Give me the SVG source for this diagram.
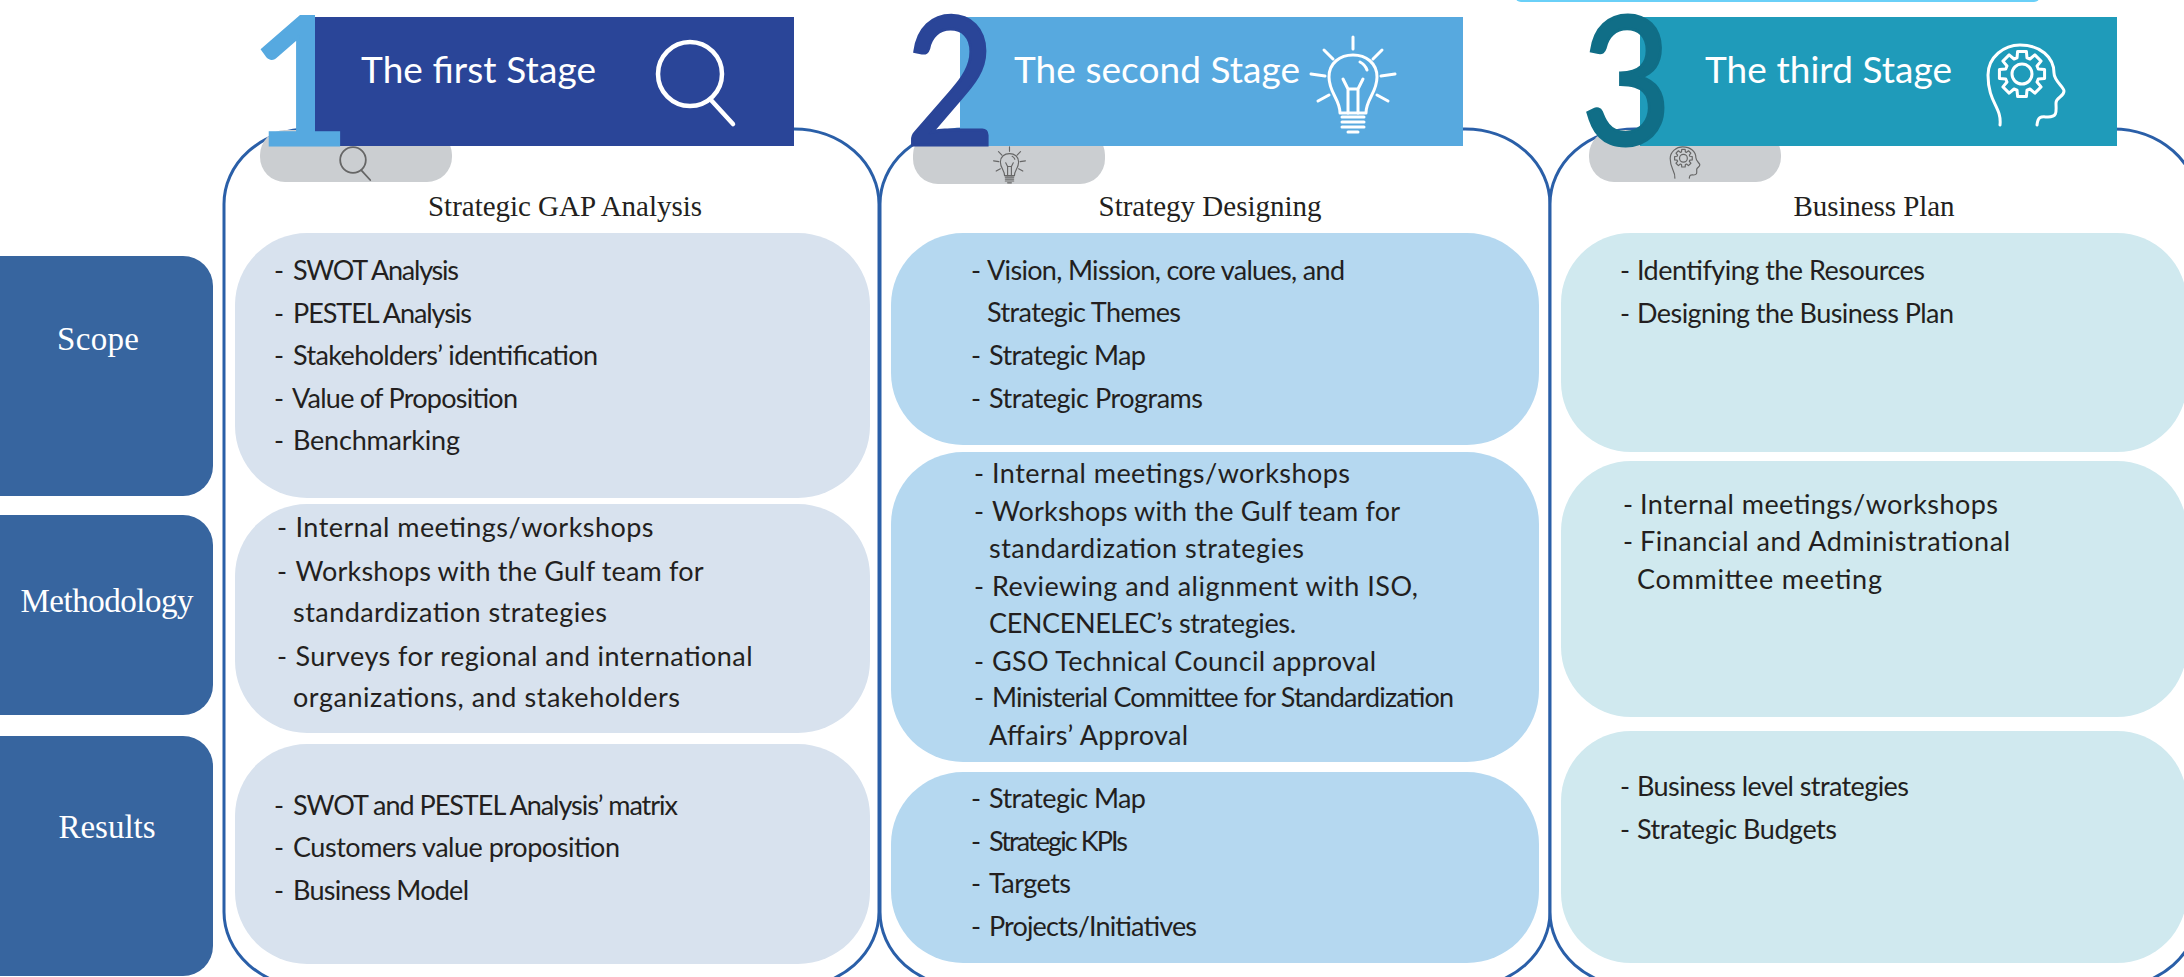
<svg xmlns="http://www.w3.org/2000/svg" width="2184" height="977" viewBox="0 0 2184 977">
<style>
.side{fill:#37659f}
.sl{font-family:"Liberation Serif",serif;font-size:33px;fill:#fff;text-anchor:middle}
.panel{fill:#fff;stroke:#2a5fa8;stroke-width:3}
.tab{fill:#cbced1}
.t{font-family:"Liberation Serif",serif;font-size:29px;fill:#231f20;text-anchor:middle}
.b{font-family:Lato,"Noto Sans",sans-serif;font-size:27px;fill:#231f20}
.a{fill:#d8e2ee}.c{fill:#b5d8f0}.d{fill:#d0e9ef}
.h{font-family:Lato,"Noto Sans",sans-serif;font-size:37px;fill:#fff}
.n{font-family:Lato,"Noto Sans",sans-serif;font-size:178px;stroke-width:3}
.w{fill:none;stroke:#fff;stroke-width:3;stroke-linecap:round;stroke-linejoin:round}
.m{fill:none;stroke:#fff;stroke-width:4.500;stroke-linecap:round}
.g{fill:none;stroke:#666;stroke-width:3;stroke-linecap:round;stroke-linejoin:round}
.gm{fill:none;stroke:#666;stroke-width:4.500;stroke-linecap:round}
</style>
<defs>
<g id="mag"><circle cx="0" cy="0" r="32"/><path d="M21 26L43 50"/></g>
<g id="bulb"><path d="M0-48V-36M-29-35L-20-26M29-35L20-26M-42-11L-28-9M42-11L28-9M-35 16L-24 10M35 16L24 10"/><path d="M-13 28C-13 14-24 8-24-8C-24-22-13-30 0-30C13-30 24-22 24-8C24 8 13 14 13 28Z"/><path d="M-5 28V4L-10-6M5 28V4L10-6M-5 4H5M7-23C11-21 13-18 14-15"/><path d="M-11 32H11M-11 37H11M-11 42H11M-5 47H5"/></g>
<g id="head"><path d="M-26 40C-24 22-38 18-38-10C-38-28-22-40-6-40C14-40 28-28 28-12C28-4 38 2 38 6C38 12 30 12 30 18C30 26 32 32 22 32C16 32 12 30 11 40"/><path d="M-4.970-27.260L-4.390-33.580H4.390L4.970-27.260L7.980-26.010L12.860-30.070L19.070-23.860L15.010-18.980L16.260-15.970L22.580-15.390V-6.610L16.260-6.030L15.010-3.020L19.070 1.860L12.860 8.070L7.980 4.010L4.970 5.260L4.390 11.580H-4.390L-4.970 5.260L-7.980 4.010L-12.860 8.070L-19.070 1.860L-15.010-3.020L-16.260-6.030L-22.580-6.610V-15.390L-16.260-15.970L-15.010-18.980L-19.070-23.860L-12.860-30.070L-7.980-26.010Z" transform="translate(-4 0)"/><circle cx="-4" cy="-11" r="10"/></g>
</defs>
<rect id="top-strip" x="1515" y="-12" width="525" height="14" rx="6" fill="#6ad0f8"/>
<g id="side-scope"><rect class="side" x="-40" y="256" width="253" height="240" rx="30"/><text class="sl" x="98" y="350" textLength="82">Scope</text></g>
<g id="side-methodology"><rect class="side" x="-40" y="515" width="253" height="200" rx="30"/><text class="sl" x="107" y="612" textLength="173">Methodology</text></g>
<g id="side-results"><rect class="side" x="-40" y="736" width="253" height="240" rx="30"/><text class="sl" x="107" y="838" textLength="97">Results</text></g>

<g id="stage1">
<rect class="panel" x="224" y="129" width="655" height="858" rx="85" ry="75"/>
<rect class="tab" x="260" y="130" width="192" height="52" rx="25"/>
<use href="#mag" class="gm" transform="translate(353 160) scale(.4)"/>
<text class="t" x="565" y="216" textLength="274">Strategic GAP Analysis</text>
<rect class="a" x="235" y="233" width="635" height="265" rx="72"/>
<text class="b" y="280"><tspan x="274">- </tspan><tspan x="293" textLength="166">SWOT Analysis</tspan></text>
<text class="b" y="323"><tspan x="274">- </tspan><tspan x="293" textLength="179">PESTEL Analysis</tspan></text>
<text class="b" y="365"><tspan x="274">- </tspan><tspan x="293" textLength="305">Stakeholders’ identification</tspan></text>
<text class="b" y="408"><tspan x="274">- </tspan><tspan x="292" textLength="226">Value of Proposition</tspan></text>
<text class="b" y="450"><tspan x="274">- </tspan><tspan x="293" textLength="167">Benchmarking</tspan></text>
<rect class="a" x="235" y="504" width="635" height="229" rx="72"/>
<text class="b" y="537"><tspan x="277">- </tspan><tspan x="295.500" textLength="358">Internal meetings/workshops</tspan></text>
<text class="b" y="581"><tspan x="277">- </tspan><tspan x="295.500" textLength="408">Workshops with the Gulf team for</tspan></text>
<text class="b" x="293" y="622" textLength="314">standardization strategies</text>
<text class="b" y="666"><tspan x="277">- </tspan><tspan x="295.500" textLength="457">Surveys for regional and international</tspan></text>
<text class="b" x="293" y="707" textLength="387">organizations, and stakeholders</text>
<rect class="a" x="235" y="744" width="635" height="220" rx="72"/>
<text class="b" y="815"><tspan x="274">- </tspan><tspan x="293" textLength="385">SWOT and PESTEL Analysis’ matrix</tspan></text>
<text class="b" y="857"><tspan x="274">- </tspan><tspan x="293" textLength="327">Customers value proposition</tspan></text>
<text class="b" y="900"><tspan x="274">- </tspan><tspan x="293" textLength="176">Business Model</tspan></text>
<rect x="311" y="17" width="483" height="129" fill="#2a4598"/>
<text class="h" x="361" y="83" textLength="235">The first Stage</text>
<use href="#mag" class="m" transform="translate(690 74)"/>
<text class="n" x="248" y="145" fill="#56a9e0" stroke="#56a9e0">1</text>
</g>

<g id="stage2">
<rect class="panel" x="880" y="129" width="670" height="858" rx="85" ry="75"/>
<rect class="tab" x="913" y="130" width="192" height="54" rx="25"/>
<use href="#bulb" class="g" transform="translate(1009.500 165) scale(.38)"/>
<text class="t" x="1210" y="216" textLength="223">Strategy Designing</text>
<rect class="c" x="891" y="233" width="648" height="212" rx="72"/>
<text class="b" y="280"><tspan x="971">- </tspan><tspan x="987" textLength="358">Vision, Mission, core values, and</tspan></text>
<text class="b" x="987" y="322" textLength="194">Strategic Themes</text>
<text class="b" y="365"><tspan x="971">- </tspan><tspan x="989" textLength="157">Strategic Map</tspan></text>
<text class="b" y="408"><tspan x="971">- </tspan><tspan x="989" textLength="214">Strategic Programs</tspan></text>
<rect class="c" x="891" y="452" width="648" height="310" rx="72"/>
<text class="b" y="483"><tspan x="974">- </tspan><tspan x="992" textLength="358">Internal meetings/workshops</tspan></text>
<text class="b" y="521"><tspan x="974">- </tspan><tspan x="992" textLength="408">Workshops with the Gulf team for</tspan></text>
<text class="b" x="989" y="558" textLength="315">standardization strategies</text>
<text class="b" y="596"><tspan x="974">- </tspan><tspan x="992" textLength="426">Reviewing and alignment with ISO,</tspan></text>
<text class="b" x="989" y="633" textLength="307">CENCENELEC’s strategies.</text>
<text class="b" y="671"><tspan x="974">- </tspan><tspan x="992" textLength="384">GSO Technical Council approval</tspan></text>
<text class="b" y="707"><tspan x="974">- </tspan><tspan x="992" textLength="462">Ministerial Committee for Standardization</tspan></text>
<text class="b" x="989" y="745" textLength="199">Affairs’ Approval</text>
<rect class="c" x="891" y="772" width="648" height="191" rx="72"/>
<text class="b" y="808"><tspan x="971">- </tspan><tspan x="989" textLength="157">Strategic Map</tspan></text>
<text class="b" y="851"><tspan x="971">- </tspan><tspan x="989" textLength="139">Strategic KPIs</tspan></text>
<text class="b" y="893"><tspan x="971">- </tspan><tspan x="989" textLength="82">Targets</tspan></text>
<text class="b" y="936"><tspan x="971">- </tspan><tspan x="989" textLength="208">Projects/Initiatives</tspan></text>
<rect x="960" y="17" width="503" height="129" fill="#57a9df"/>
<text class="h" x="1014" y="83" textLength="286">The second Stage</text>
<use href="#bulb" class="w" transform="translate(1353 85)"/>
<text class="n" transform="translate(905 145) scale(.88 1)" fill="#2a4598" stroke="#2a4598">2</text>
</g>

<g id="stage3">
<rect class="panel" x="1550" y="129" width="648" height="858" rx="85" ry="75"/>
<rect class="tab" x="1589" y="130" width="192" height="52" rx="25"/>
<use href="#head" class="g" transform="translate(1685 162.500) scale(.39)"/>
<text class="t" x="1874" y="216" textLength="161">Business Plan</text>
<rect class="d" x="1561" y="233" width="626" height="219" rx="70"/>
<text class="b" y="280"><tspan x="1620">- </tspan><tspan x="1637" textLength="288">Identifying the Resources</tspan></text>
<text class="b" y="323"><tspan x="1620">- </tspan><tspan x="1637" textLength="317">Designing the Business Plan</tspan></text>
<rect class="d" x="1561" y="461" width="626" height="256" rx="70"/>
<text class="b" y="514"><tspan x="1623">- </tspan><tspan x="1640" textLength="358">Internal meetings/workshops</tspan></text>
<text class="b" y="551"><tspan x="1623">- </tspan><tspan x="1640" textLength="370">Financial and Administrational</tspan></text>
<text class="b" x="1637" y="589" textLength="245">Committee meeting</text>
<rect class="d" x="1561" y="731" width="626" height="232" rx="70"/>
<text class="b" y="796"><tspan x="1620">- </tspan><tspan x="1637" textLength="272">Business level strategies</tspan></text>
<text class="b" y="839"><tspan x="1620">- </tspan><tspan x="1637" textLength="200">Strategic Budgets</tspan></text>
<rect x="1640" y="17" width="477" height="129" fill="#1f9bba"/>
<text class="h" x="1705" y="83" textLength="247">The third Stage</text>
<use href="#head" class="w" transform="translate(2026 85)"/>
<text class="n" transform="translate(1581 145) scale(.88 1)" fill="#106e87" stroke="#106e87">3</text>
</g>
</svg>
